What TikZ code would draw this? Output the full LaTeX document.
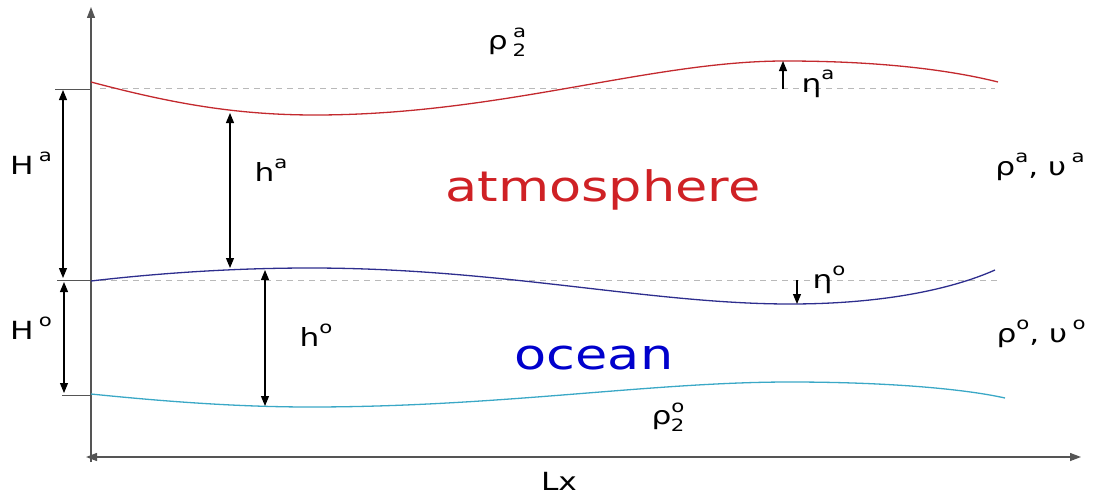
\documentclass[tikz,border=0pt]{standalone}
\usepackage{fontspec}
\setmainfont{DejaVu Sans}
\usetikzlibrary{arrows.meta}
\definecolor{atmred}{HTML}{C3292E}
\definecolor{ocnavy}{HTML}{2E2E8E}
\definecolor{occyan}{HTML}{3AA8C6}
\definecolor{axisgray}{HTML}{555555}
\tikzset{
  dimarrow/.style={draw=black, line width=1.1pt, {Triangle[length=10pt,width=8pt]}-{Triangle[length=10pt,width=8pt]}},
  onearrow/.style={draw=black, line width=1.1pt, -{Triangle[length=10pt,width=8pt]}},
  axisline/.style={draw=axisgray, line width=1.3pt},
  refline/.style={draw=gray!55, line width=0.8pt, dash pattern=on 6pt off 5pt},
  tick/.style={draw=axisgray, line width=1pt},
  lbl/.style={inner sep=0pt, font=\fontsize{25}{28}\selectfont},
  big/.style={inner sep=0pt, font=\fontsize{42}{46}\selectfont},
}
\newcommand{\wide}[1]{\scalebox{1.25}[1]{#1}}
\newcommand{\sups}[1]{\raisebox{0.5em}{\fontsize{17}{17}\selectfont #1}}
\newcommand{\supsub}[2]{\raisebox{0.5em}{\fontsize{17}{17}\selectfont #1}\llap{\raisebox{-0.25em}{\fontsize{17}{17}\selectfont #2}}}
\begin{document}
\begin{tikzpicture}[x=1pt,y=-1pt]
\useasboundingbox (0,0) rectangle (1097,495);
% axes
\coordinate (ybot) at (91,462);
\coordinate (ytop) at (91,7);
\coordinate (xl) at (86,457);
\coordinate (xr) at (1081,457);
\draw[axisline, -{Triangle[length=11pt,width=8pt]}] (ybot) -- (ytop);
\draw[axisline, {Triangle[length=11pt,width=8pt]}-{Triangle[length=11pt,width=8pt]}] (xl) -- (xr);
% reference dashed lines
\coordinate (ra1) at (100,88);
\coordinate (ra2) at (995,88);
\coordinate (ro1) at (100,280);
\coordinate (ro2) at (1000,280);
\draw[refline] (ra1) -- (ra2);
\draw[refline] (ro1) -- (ro2);
% interfaces
\draw[atmred, line width=1.3pt] (91,82) .. controls (170,103) and (235,115) .. (315,115)
  .. controls (500,115) and (650,61) .. (785,61)
  .. controls (880,61) and (950,70) .. (998,82);
\draw[ocnavy, line width=1.3pt] (91,281) .. controls (160,273) and (235,268) .. (310,268)
  .. controls (500,268) and (650,304) .. (790,304)
  .. controls (880,304) and (950,290) .. (995,270);
\draw[occyan, line width=1.3pt] (91,394) .. controls (160,401) and (235,407) .. (310,407)
  .. controls (500,407) and (650,382) .. (790,382)
  .. controls (880,382) and (960,388) .. (1005,398);
% ticks on left
\coordinate (t1a) at (55,89);  \coordinate (t1b) at (91,89);
\coordinate (t2a) at (57,280); \coordinate (t2b) at (91,280);
\coordinate (t3a) at (62,395); \coordinate (t3b) at (91,395);
\draw[tick] (t1a) -- (t1b);
\draw[tick] (t2a) -- (t2b);
\draw[tick] (t3a) -- (t3b);
% dimension arrows
\coordinate (Ha1) at (63,90);  \coordinate (Ha2) at (63,278);
\coordinate (Ho1) at (64,282); \coordinate (Ho2) at (64,393);
\coordinate (ha1) at (230,113); \coordinate (ha2) at (230,268);
\coordinate (ho1) at (265,270); \coordinate (ho2) at (265,406);
\draw[dimarrow] (Ha1) -- (Ha2);
\draw[dimarrow] (Ho1) -- (Ho2);
\draw[dimarrow] (ha1) -- (ha2);
\draw[dimarrow] (ho1) -- (ho2);
\coordinate (ea1) at (783,89); \coordinate (ea2) at (783,61);
\coordinate (eo1) at (797,280); \coordinate (eo2) at (797,304);
\draw[onearrow] (ea1) -- (ea2);
\draw[onearrow] (eo1) -- (eo2);
% labels
\node[lbl] (Ha) at (31,163) {\wide{H\,\sups{a}}};
\node[lbl] (Ho) at (31,328) {\wide{H\,\sups{o}}};
\node[lbl] (hal) at (271,170) {\wide{h\sups{a}}};
\node[lbl] (hol) at (316,335) {\wide{h\sups{o}}};
\node[lbl] (etaa) at (818,84) {\wide{η\sups{a}}};
\node[lbl] (etao) at (829,280) {\wide{η\sups{o}}};
\node[lbl] (rho2a) at (507,42) {\wide{ρ\,\supsub{a}{2}}};
\node[lbl] (rhoa) at (1040,167) {\wide{ρ\sups{a}, υ\,\sups{a}}};
\node[lbl] (rhoo) at (1041,334) {\wide{ρ\sups{o}, υ\,\sups{o}}};
\node[lbl] (rho2o) at (668,417) {\wide{ρ\supsub{o}{2}}};
\node[lbl] (Lx) at (559,481) {\wide{Lx}};
\node[big, text=atmred!80!red] (atm) at (603,190) {\wide{atmosphere}};
\node[big, text=blue!80!black] (ocean) at (594,358) {\wide{ocean}};
\end{tikzpicture}
\end{document}
